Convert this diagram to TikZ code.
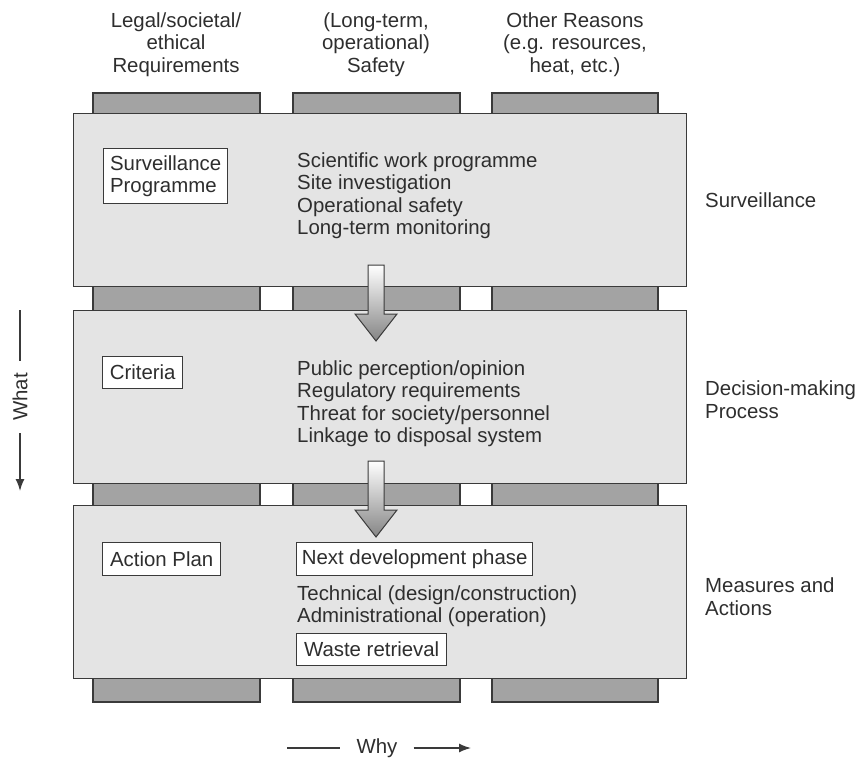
\documentclass[tikz,border=0pt]{standalone}
\usepackage{fontspec}
\setmainfont{Liberation Sans}
\usetikzlibrary{arrows.meta,calc}
\definecolor{panelfill}{HTML}{E4E4E4}
\definecolor{barfill}{HTML}{A3A3A3}
\definecolor{stroke}{HTML}{3A3A3A}
\definecolor{ink}{HTML}{2E2E2E}
\begin{document}
\begin{tikzpicture}[x=1pt,y=-1pt,
  every node/.style={font=\fontsize{20.4}{22.4}\selectfont, text=ink},
  txt/.style={inner sep=0pt},
  bar/.style={fill=barfill, draw=stroke, line width=1.1pt},
  panel/.style={fill=panelfill, draw=stroke, line width=1.1pt, inner sep=0pt},
  wbox/.style={fill=white, draw=stroke, line width=1.3pt, inner sep=0pt, align=left},
  guide/.style={draw=stroke, line width=1.4pt},
  blockarrow/.pic={
    \shade[top color=white, bottom color=black!48, draw=stroke, line width=1pt]
      (-8,0) -- (8,0) -- (8,49) -- (21,49) -- (0,76) -- (-21,49) -- (-8,49) -- cycle;
  }]
\useasboundingbox (0,0) rectangle (858,758);

% column labels
\node[txt, align=center, anchor=base] (c1) at (176,72) {Legal/societal/\\ethical\\Requirements};
\node[txt, align=center, anchor=base] (c2) at (376,72) {(Long-term,\\operational)\\Safety};
\node[txt, align=center, anchor=base] (c3) at (575,72) {Other Reasons\\(e.g. resources,\\heat, etc.)};

% columns (behind panels)
\draw[bar] (93,93) rectangle (260,702);
\draw[bar] (293,93) rectangle (460,702);
\draw[bar] (492,93) rectangle (658,702);

% panels
\node[panel, anchor=north west, minimum width=613pt, minimum height=173pt] (p1) at (73,113) {};
\node[panel, anchor=north west, minimum width=613pt, minimum height=173pt] (p2) at (73,310) {};
\node[panel, anchor=north west, minimum width=613pt, minimum height=173pt] (p3) at (73,505) {};

% panel 1
\node[wbox, anchor=north west, minimum width=124pt, minimum height=55pt] (sp) at (103,148) {Surveillance\\Programme};
\node[txt, anchor=base west] (s1) at (297,167) {Scientific work programme};
\node[txt, anchor=base west] (s2) at (297,189.5) {Site investigation};
\node[txt, anchor=base west] (s3) at (297,212) {Operational safety};
\node[txt, anchor=base west] (s4) at (297,234.5) {Long-term monitoring};

% panel 2
\node[wbox, anchor=north west, minimum width=80pt, minimum height=32pt] (cr) at (102,356) {Criteria};
\node[txt, anchor=base west] (d1) at (297,375) {Public perception/opinion};
\node[txt, anchor=base west] (d2) at (297,397.5) {Regulatory requirements};
\node[txt, anchor=base west] (d3) at (297,420) {Threat for society/personnel};
\node[txt, anchor=base west] (d4) at (297,442.5) {Linkage to disposal system};

% panel 3
\node[wbox, anchor=north west, minimum width=118pt, minimum height=33pt] (ap) at (102,542) {Action Plan};
\node[wbox, anchor=north west, minimum width=236pt, minimum height=33pt] (nd) at (296,542) {Next development phase};
\node[txt, anchor=base west] (m1) at (297,600) {Technical (design/construction)};
\node[txt, anchor=base west] (m2) at (297,622.5) {Administrational (operation)};
\node[wbox, anchor=north west, minimum width=150pt, minimum height=32pt] (wr) at (296,633) {Waste retrieval};

% block arrows
\coordinate (a1) at (376,265);
\coordinate (a2) at (376,461);
\pic at (a1) {blockarrow};
\pic at (a2) {blockarrow};

% right labels
\node[txt, anchor=base west] (r1) at (705,207) {Surveillance};
\node[txt, anchor=base west] (r2a) at (705,395) {Decision-making};
\node[txt, anchor=base west] (r2b) at (705,418) {Process};
\node[txt, anchor=base west] (r3a) at (705,592) {Measures and};
\node[txt, anchor=base west] (r3b) at (705,615) {Actions};

% What arrow
\node[rotate=90, inner xsep=12pt, inner ysep=0pt] (what) at (20,397) {What};
\coordinate (wtop) at (20,310);
\coordinate (wbot) at (20,491);
\draw[guide] (wtop) -- (what.east);
\draw[guide, -{Latex[length=12pt,width=9pt]}] (what.west) -- (wbot);

% Why arrow
\node[inner xsep=16pt, inner ysep=0pt] (why) at (377,748) {Why};
\coordinate (yl) at (287,748);
\coordinate (yr) at (471,748);
\draw[guide] (yl) -- (why.west);
\draw[guide, -{Latex[length=12pt,width=9pt]}] (why.east) -- (yr);
\end{tikzpicture}
\end{document}
